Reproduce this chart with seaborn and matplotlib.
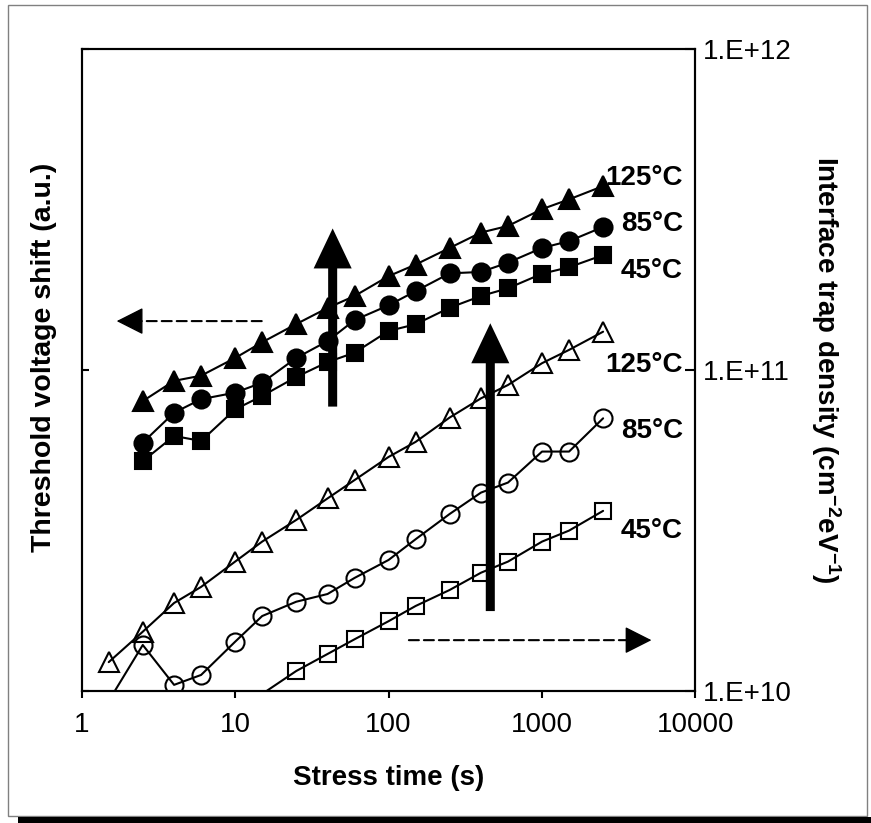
import numpy as np
import pandas as pd
import matplotlib
matplotlib.use("Agg")
import matplotlib.pyplot as plt
import seaborn as sns
from matplotlib.patches import Rectangle
from matplotlib.ticker import NullLocator

# ---- data -------------------------------------------------------------
# threshold voltage shift (a.u.), filled symbols, left axis
t_vth = [2.5, 4, 6, 10, 15, 25, 40, 60, 100, 150, 250, 400, 600, 1000, 1500, 2500]
vth_125 = [8.0, 9.25, 9.6, 10.9, 12.2, 13.9, 15.6, 17.0, 19.6, 21.3, 24.0, 26.8, 28.1, 31.7, 34.0, 37.4]
vth_85 = [5.94, 7.36, 8.11, 8.50, 9.13, 10.9, 12.3, 14.3, 15.9, 17.6, 20.0, 20.2, 21.6, 24.0, 25.2, 27.9]
vth_45 = [5.2, 6.23, 6.01, 7.54, 8.30, 9.51, 10.58, 11.32, 13.23, 13.88, 15.63, 17.0, 17.97, 19.95, 20.9, 22.8]

# interface trap density (cm^-2 eV^-1), open symbols, right axis
t_nit_125 = [1.5, 2.5, 4, 6, 10, 15, 25, 40, 60, 100, 150, 250, 400, 600, 1000, 1500, 2500]
nit_125 = [1.23e10, 1.53e10, 1.88e10, 2.11e10, 2.53e10, 2.92e10, 3.41e10, 3.98e10, 4.54e10,
           5.36e10, 5.97e10, 7.11e10, 8.16e10, 8.98e10, 1.05e11, 1.155e11, 1.316e11]
t_nit_85 = [1.5, 2.5, 4, 6, 10, 15, 25, 40, 60, 100, 150, 250, 400, 600, 1000, 1500, 2500]
nit_85 = [9.31e9, 1.391e10, 1.045e10, 1.122e10, 1.424e10, 1.712e10, 1.897e10, 2.005e10, 2.25e10,
          2.56e10, 2.97e10, 3.56e10, 4.15e10, 4.46e10, 5.57e10, 5.57e10, 7.07e10]
t_nit_45 = [15, 25, 40, 60, 100, 150, 250, 400, 600, 1000, 1500, 2500]
nit_45 = [9.79e9, 1.154e10, 1.304e10, 1.449e10, 1.65e10, 1.84e10, 2.064e10, 2.336e10, 2.53e10,
          2.92e10, 3.16e10, 3.64e10]

temp_labels = ["125°C", "85°C", "45°C"]
x_ticks = [1, 10, 100, 1000, 10000]
x_tick_labels = ["1", "10", "100", "1000", "10000"]
vth_ticks = [1, 10, 100]
nit_ticks = [1e10, 1e11, 1e12]
nit_tick_labels = ["1.E+10", "1.E+11", "1.E+12"]

# ---- style ------------------------------------------------------------
sns.set_style("ticks")
plt.rcParams["font.family"] = ["Liberation Sans", "DejaVu Sans"]
plt.rcParams["mathtext.fontset"] = "custom"
plt.rcParams["mathtext.rm"] = "Liberation Sans"
plt.rcParams["mathtext.bf"] = "Liberation Sans:bold"
plt.rcParams["mathtext.it"] = "Liberation Sans:italic"
for key in ("axes.edgecolor", "text.color", "axes.labelcolor", "xtick.color", "ytick.color"):
    plt.rcParams[key] = "black"

fig = plt.figure(figsize=(8.71, 8.23), dpi=100)
ax = fig.add_axes([0.0938, 0.1604, 0.7047, 0.7801])
ax2 = ax.twinx()

ax.set_xscale("log")
ax.set_yscale("log")
ax2.set_yscale("log")
ax.set_xlim(1, 10000)
ax.set_ylim(vth_ticks[0], vth_ticks[-1])
ax2.set_ylim(nit_ticks[0], nit_ticks[-1])


def draw_series(axis, t, v, marker, ms, filled, ymin):
    df = pd.DataFrame({"t": t, "v": v})
    sns.lineplot(data=df, x="t", y="v", ax=axis, color="black", linewidth=1.5,
                 sort=False, estimator=None, zorder=3)
    # symbols only for points inside the plotted range
    shown = df[df["v"] >= ymin]
    sns.lineplot(data=shown, x="t", y="v", ax=axis, color="black", linestyle="none",
                 marker=marker, markersize=ms,
                 markerfacecolor="black" if filled else "none",
                 markeredgecolor="black", markeredgewidth=1.5,
                 sort=False, estimator=None, zorder=4)


ymin_v = vth_ticks[0]
ymin_n = nit_ticks[0]
draw_series(ax, t_vth, vth_125, "^", 15, True, ymin_v)
draw_series(ax, t_vth, vth_85, "o", 13, True, ymin_v)
draw_series(ax, t_vth, vth_45, "s", 12, True, ymin_v)
draw_series(ax2, t_nit_125, nit_125, "^", 15, False, ymin_n)
draw_series(ax2, t_nit_85, nit_85, "o", 13, False, ymin_n)
draw_series(ax2, t_nit_45, nit_45, "s", 12, False, ymin_n)

# ---- axes -------------------------------------------------------------
ax.set_xticks(x_ticks)
ax.set_xticklabels(x_tick_labels)
ax.xaxis.set_minor_locator(NullLocator())
ax.set_yticks(vth_ticks)
ax.yaxis.set_minor_locator(NullLocator())
ax.tick_params(axis="x", direction="out", length=5, width=1.5, pad=10, labelsize=20)
ax.tick_params(axis="y", direction="in", length=5, width=1.5, labelleft=False)

ax2.set_yticks(nit_ticks)
ax2.set_yticklabels(nit_tick_labels)
ax2.yaxis.set_minor_locator(NullLocator())
ax2.tick_params(axis="y", direction="in", length=7, width=1.5, pad=5.4, labelsize=20)

for a in (ax, ax2):
    for s in a.spines.values():
        s.set_linewidth(1.5)
        s.set_color("black")

ax.set_xlabel("Stress time (s)", fontsize=20, fontweight="bold")
ax.xaxis.label.set_va("center")
ax.xaxis.set_label_coords(0.5, -0.1355)

ax.set_ylabel("Threshold voltage shift (a.u.)", fontsize=20.5, fontweight="bold")
ax.yaxis.label.set_va("center")
ax.yaxis.set_label_coords(-0.0614, 0.52)

ax2.set_ylabel(r"Interface trap density (cm$^{\mathbf{-2}}$eV$^{\mathbf{-1}}$)",
               fontsize=20, fontweight="bold", rotation=270)
ax2.yaxis.label.set_va("center")
ax2.yaxis.set_label_coords(1.2126, 0.5)

# temperature tags next to the curve ends
tag_y = [0.7882, 0.7165, 0.6428, 0.4974, 0.3933, 0.2379]
for lab, y in zip(temp_labels + temp_labels, tag_y):
    ax.text(0.9797, y, lab, transform=ax.transAxes, ha="right", va="baseline",
            fontsize=20, fontweight="bold")

# ---- arrows -----------------------------------------------------------
thick = dict(arrowstyle="simple,head_length=28.8,head_width=27.4,tail_width=6.5",
             mutation_scale=1, color="black", lw=0, shrinkA=0, shrinkB=0)
ax2.annotate("", xy=(43.2, 2.76e11), xytext=(43.2, 7.69e10), arrowprops=thick, zorder=6)
ax2.annotate("", xy=(460, 1.398e11), xytext=(460, 1.774e10), arrowprops=thick, zorder=6)

# dashed shafts with solid heads
head_len = 17
shaft = dict(arrowstyle="-", color="black", lw=1.5, linestyle=(0, (4.8, 2.4)),
             shrinkA=0, shrinkB=head_len)
head = dict(arrowstyle="-|>,head_length=%g,head_width=8.6" % head_len, mutation_scale=1,
            color="black", lw=1.0, shrinkA=0, shrinkB=0)
for tip, start, off in [((1.69, 1.42e11), (14.9, 1.42e11), head_len),
                        ((5165, 1.44e10), (135.6, 1.44e10), -head_len)]:
    ax2.annotate("", xy=tip, xytext=start, arrowprops=shaft, zorder=6)
    ax2.annotate("", xy=tip, xytext=(off, 0), textcoords="offset points",
                 arrowprops=head, zorder=6)

# ---- frame around the figure -----------------------------------------
fig.add_artist(Rectangle((8 / 871, 7 / 823), 859 / 871, 811 / 823, transform=fig.transFigure,
                         fill=False, edgecolor="#808080", linewidth=1.0))
fig.add_artist(Rectangle((18 / 871, 0), 1.0, 6.5 / 823, transform=fig.transFigure,
                         facecolor="black", edgecolor="none"))

fig.savefig("out.png", dpi=100)
